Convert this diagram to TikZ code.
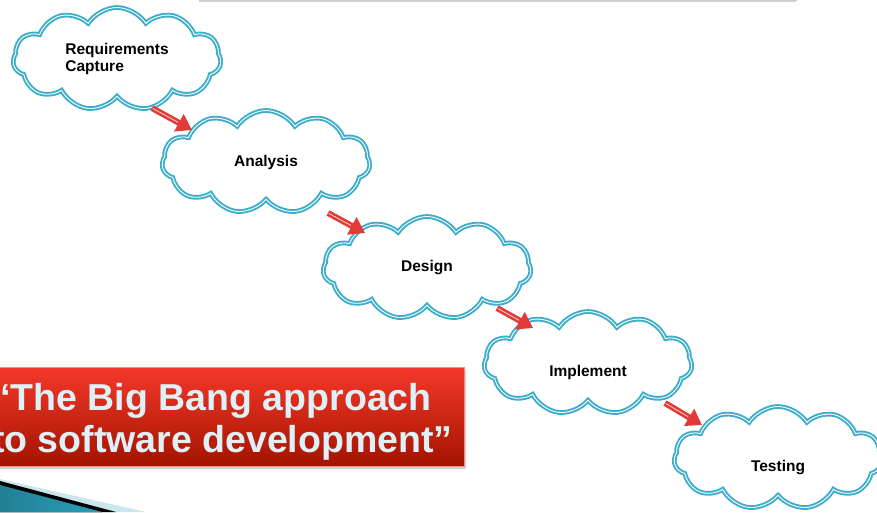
\documentclass[tikz,border=0pt]{standalone}
\usepackage{fontspec}
\setmainfont{Liberation Sans}
\usepackage{xcolor}
\usepackage{tikz}
\usetikzlibrary{arrows.meta,shapes.symbols,shadows}
\definecolor{cloudteal}{HTML}{3BADCA}
\definecolor{arrowred}{HTML}{E23A36}
\definecolor{bangtop}{HTML}{F5382A}
\definecolor{bangbot}{HTML}{A31400}
\definecolor{bangtext}{HTML}{DFF1F7}
\definecolor{swoosh}{HTML}{2A9FBA}

\begin{document}
\begin{tikzpicture}[x=1pt,y=-1pt,
  cloudbox/.style={cloud,cloud puffs=11,cloud puff arc=115,aspect=2,draw=cloudteal,line width=1.9pt,
    double=white,double distance=0.9pt,fill=white,minimum width=208pt,minimum height=103pt,
    inner sep=1pt,font=\bfseries\fontsize{15.5}{17}\selectfont},
  lowtext/.style={text height=26pt,text depth=0pt},
  flowarrow/.style={arrowred,line width=6pt,-{Triangle[length=15pt,width=19pt]},
    postaction={draw=white!80!arrowred,line width=0.8pt,-,shorten >=16pt,shorten <=1pt}}]
  \useasboundingbox (0,0) rectangle (877,512);
  \fill[white,draw=black!20,drop shadow={shadow xshift=0pt,shadow yshift=-1.5pt,opacity=0.35}] (199,-30) rectangle (796,0.5);
  \node[cloudbox,align=left] (req) at (117,59) {Requirements\\Capture};
  \node[cloudbox] (ana) at (266,162) {Analysis};
  \node[cloudbox] (des) at (427,268) {Design};
  \node[cloudbox,lowtext] (imp) at (588,363) {Implement};
  \node[cloudbox,lowtext] (tes) at (778,458) {Testing};
  \coordinate (t1) at (152,108); \coordinate (h1) at (192,130);
  \coordinate (t2) at (328,213); \coordinate (h2) at (365,233);
  \coordinate (t3) at (497,308); \coordinate (h3) at (533,328);
  \coordinate (t4) at (665,403); \coordinate (h4) at (702,425);
  \draw[flowarrow] (t1) -- (h1);
  \draw[flowarrow] (t2) -- (h2);
  \draw[flowarrow] (t3) -- (h3);
  \draw[flowarrow] (t4) -- (h4);
  \node[rectangle,anchor=west,top color=bangtop,bottom color=bangbot,draw=bangtop!60!white,line width=0.6pt,
    drop shadow={shadow xshift=2pt,shadow yshift=-2.5pt,opacity=0.35},
    minimum width=484pt,minimum height=99pt,inner xsep=11pt,inner ysep=0pt,align=left,
    text=bangtext,font=\bfseries\fontsize{37.5}{42}\selectfont] (bang) at (-20,416.5)
    {\rule{0pt}{37pt}“The Big Bang approach\\to software development”};
  \fill[swoosh!25!white] (0,479) -- (146,512) -- (0,512) -- cycle;
  \fill[black] (0,481) -- (116,512) -- (0,512) -- cycle;
  \fill[left color=swoosh!80!black,right color=swoosh] (0,485) -- (102,512) -- (0,512) -- cycle;
\end{tikzpicture}
\end{document}
